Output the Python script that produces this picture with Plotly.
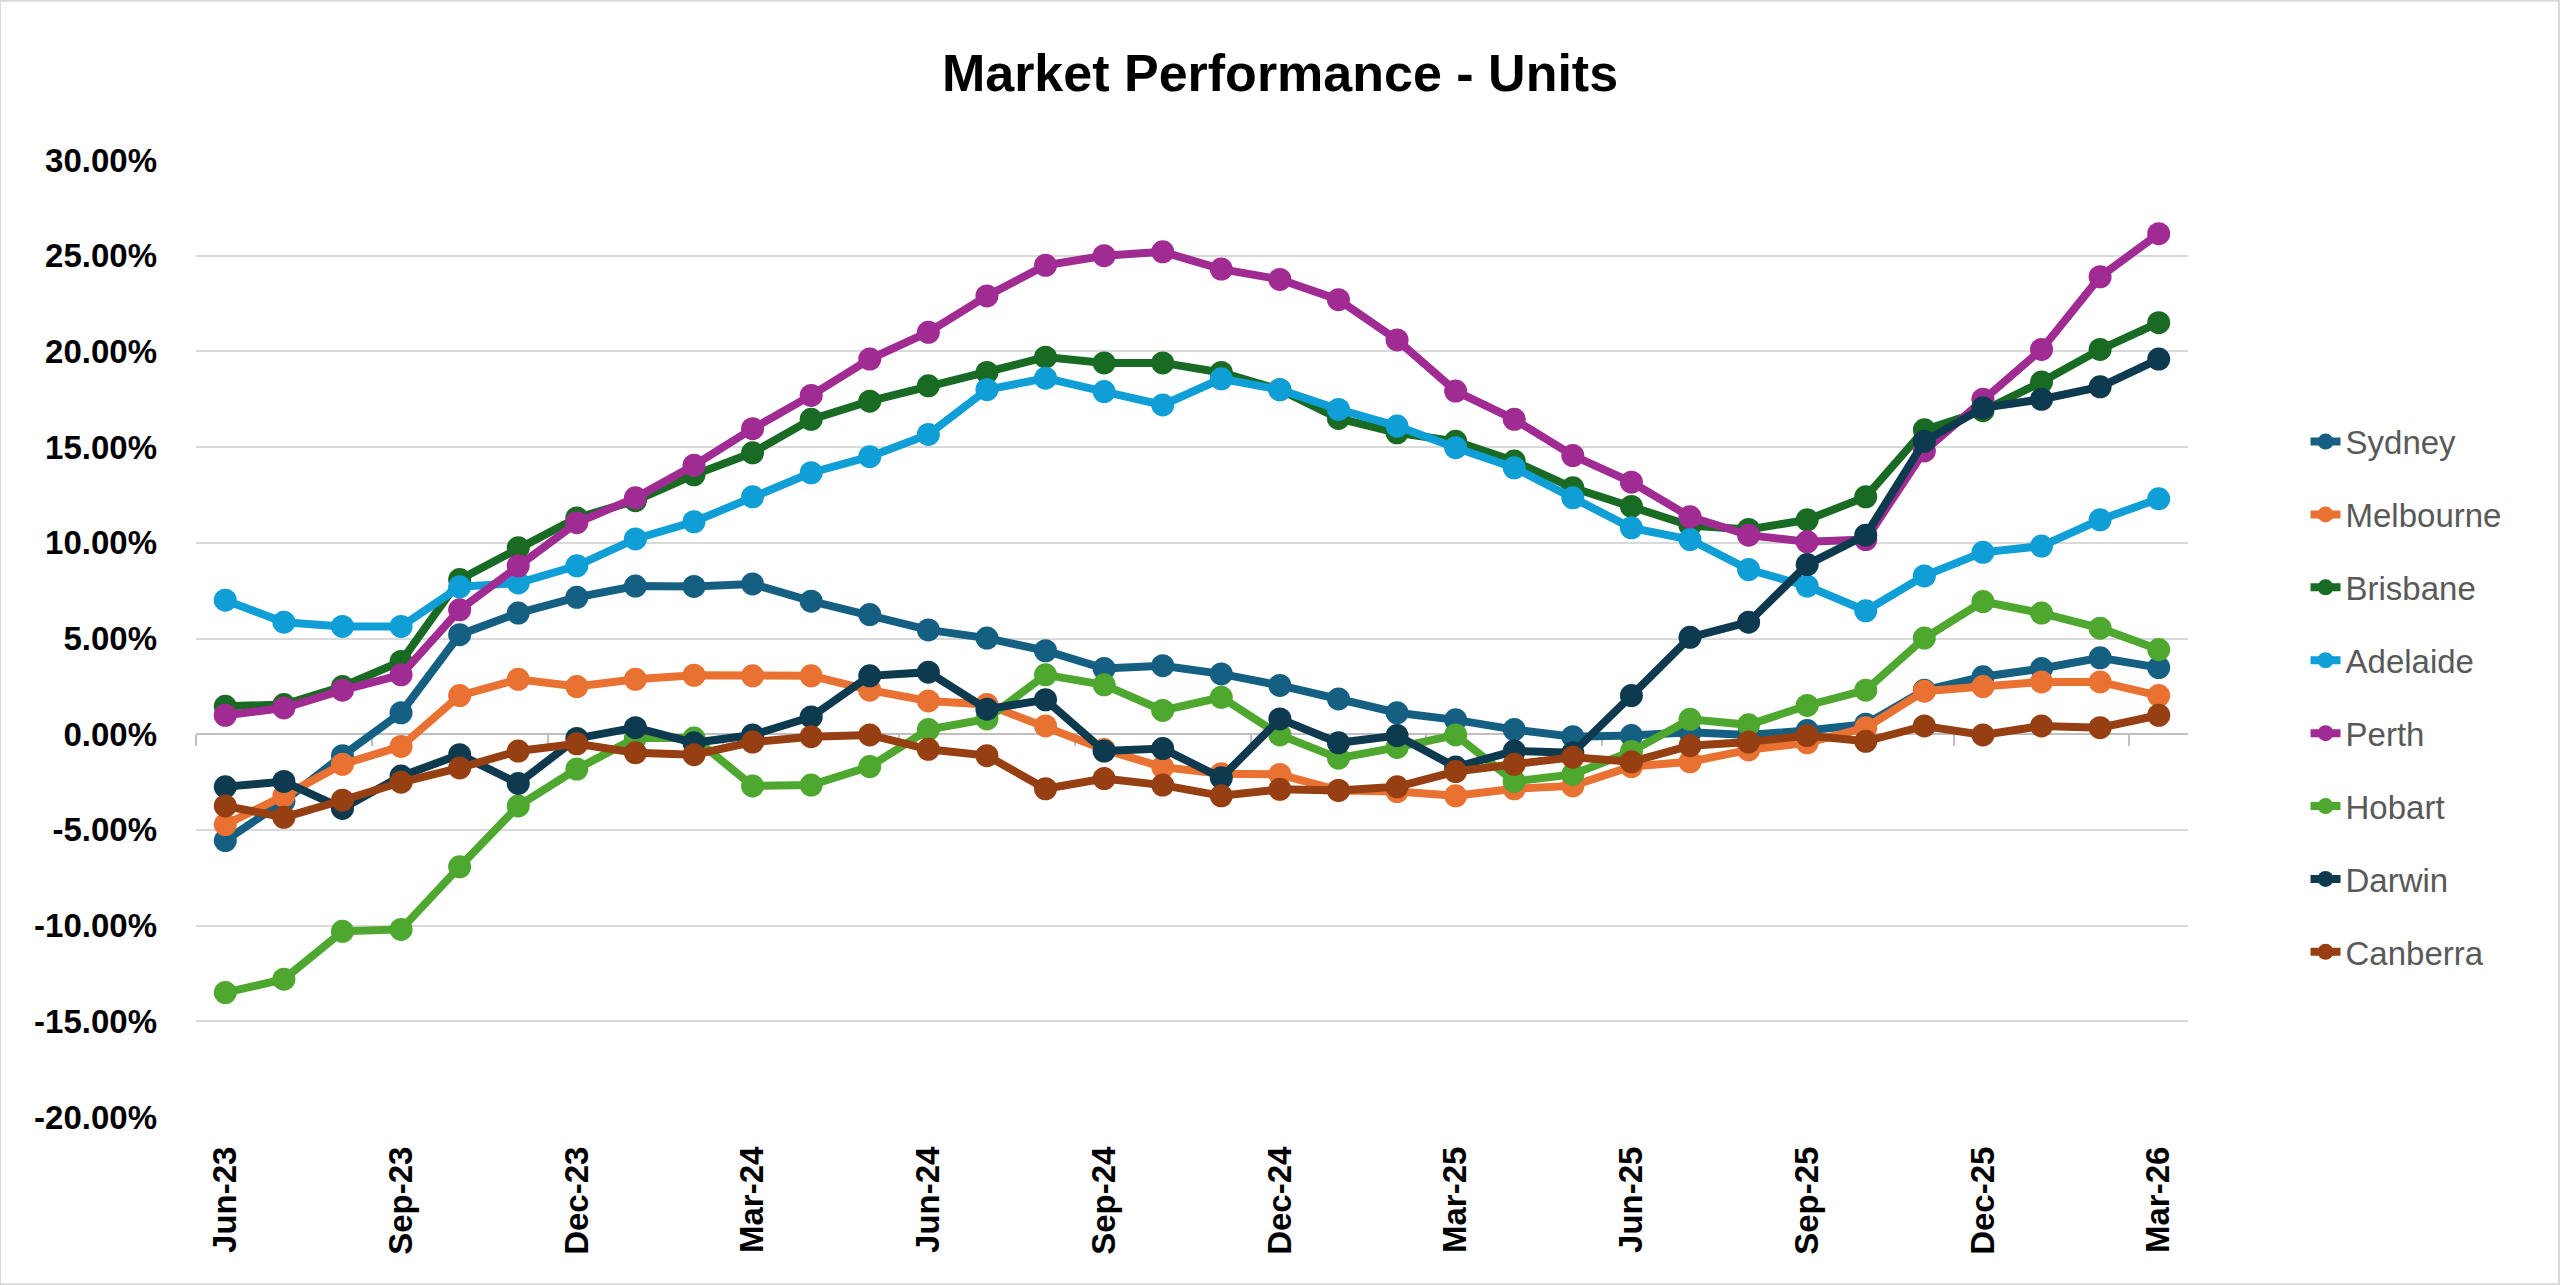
import plotly.graph_objects as go

months = ["Jun-23", "Jul-23", "Aug-23", "Sep-23", "Oct-23", "Nov-23", "Dec-23",
          "Jan-24", "Feb-24", "Mar-24", "Apr-24", "May-24", "Jun-24", "Jul-24",
          "Aug-24", "Sep-24", "Oct-24", "Nov-24", "Dec-24", "Jan-25", "Feb-25",
          "Mar-25", "Apr-25", "May-25", "Jun-25", "Jul-25", "Aug-25", "Sep-25",
          "Oct-25", "Nov-25", "Dec-25", "Jan-26", "Feb-26", "Mar-26"]

sydney = [-5.56, -3.5, -1.12, 1.12, 5.2, 6.33, 7.15, 7.74, 7.72, 7.85, 6.95, 6.25,
          5.45, 5.02, 4.36, 3.43, 3.58, 3.15, 2.55, 1.84, 1.12, 0.75, 0.24, -0.13,
          -0.07, 0.1, -0.04, 0.19, 0.52, 2.3, 3.0, 3.43, 3.99, 3.48]
melbourne = [-4.72, -3.22, -1.57, -0.64, 2.02, 2.87, 2.49, 2.87, 3.08, 3.05, 3.05, 2.3,
             1.74, 1.55, 0.43, -0.8, -1.72, -2.06, -2.1, -2.94, -3.0, -3.22, -2.85, -2.7,
             -1.69, -1.44, -0.82, -0.45, 0.34, 2.25, 2.49, 2.73, 2.73, 2.02]
brisbane = [1.46, 1.55, 2.49, 3.8, 8.08, 9.74, 11.3, 12.2, 13.55, 14.7, 16.45, 17.4,
            18.2, 18.9, 19.7, 19.4, 19.4, 18.9, 18.0, 16.5, 15.75, 15.3, 14.27, 12.87,
            11.9, 10.9, 10.7, 11.2, 12.4, 15.9, 16.9, 18.4, 20.1, 21.5]
adelaide = [7.0, 5.85, 5.63, 5.63, 7.7, 7.9, 8.8, 10.2, 11.1, 12.4, 13.66, 14.5,
            15.66, 18.0, 18.6, 17.9, 17.2, 18.57, 18.0, 16.97, 16.1, 14.97, 13.92, 12.35,
            10.78, 10.17, 8.6, 7.74, 6.45, 8.27, 9.5, 9.83, 11.2, 12.3]
perth = [0.99, 1.37, 2.3, 3.1, 6.5, 8.8, 11.05, 12.35, 14.05, 15.96, 17.7, 19.6,
         21.0, 22.9, 24.5, 25.0, 25.2, 24.3, 23.76, 22.7, 20.6, 17.93, 16.45, 14.56,
         13.17, 11.36, 10.4, 10.05, 10.17, 14.8, 17.5, 20.1, 23.9, 26.15]
hobart = [-13.5, -12.8, -10.3, -10.2, -6.93, -3.75, -1.82, -0.2, -0.2, -2.7, -2.66, -1.69,
          0.24, 0.8, 3.1, 2.58, 1.24, 1.93, -0.04, -1.25, -0.69, -0.04, -2.47, -2.1,
          -0.9, 0.78, 0.49, 1.5, 2.3, 5.02, 6.93, 6.33, 5.54, 4.42]
darwin = [-2.75, -2.47, -3.88, -2.19, -1.07, -2.57, -0.22, 0.34, -0.45, -0.04, 0.9, 3.05,
          3.24, 1.31, 1.8, -0.88, -0.75, -2.28, 0.8, -0.45, -0.07, -1.72, -0.88, -0.97,
          2.02, 5.06, 5.85, 8.86, 10.4, 15.3, 17.05, 17.5, 18.15, 19.6]
canberra = [-3.75, -4.34, -3.45, -2.51, -1.76, -0.88, -0.5, -0.97, -1.07, -0.41, -0.13, -0.04,
            -0.79, -1.12, -2.85, -2.32, -2.66, -3.22, -2.88, -2.94, -2.75, -1.95, -1.57, -1.2,
            -1.44, -0.6, -0.41, -0.07, -0.37, 0.43, -0.04, 0.43, 0.34, 0.99]

x_tick_labels = ["Jun-23", "Sep-23", "Dec-23", "Mar-24", "Jun-24", "Sep-24",
                 "Dec-24", "Mar-25", "Jun-25", "Sep-25", "Dec-25", "Mar-26"]
y_tick_values = [-20, -15, -10, -5, 0, 5, 10, 15, 20, 25, 30]
y_tick_labels = ["-20.00%", "-15.00%", "-10.00%", "-5.00%", "0.00%", "5.00%",
                 "10.00%", "15.00%", "20.00%", "25.00%", "30.00%"]

series = [
    ("Sydney", sydney, "#156082"),
    ("Melbourne", melbourne, "#E97132"),
    ("Brisbane", brisbane, "#196B24"),
    ("Adelaide", adelaide, "#0F9ED5"),
    ("Perth", perth, "#A02B93"),
    ("Hobart", hobart, "#4EA72E"),
    ("Darwin", darwin, "#0D3A4F"),
    ("Canberra", canberra, "#963F12"),
]

FONT = "Arial, Liberation Sans, sans-serif"

fig = go.Figure()
for name, vals, color in series:
    fig.add_trace(go.Scatter(
        x=months, y=vals, name=name, mode="lines+markers", legendgroup=name,
        line=dict(color=color, width=8),
        marker=dict(color=color, size=23),
    ))

# helper trace so the category-boundary axis (tick marks on the 0% line) is drawn
fig.add_trace(go.Scatter(x=[], y=[], xaxis="x2", showlegend=False, hoverinfo="skip"))

boundary_ticks = [i - 0.5 for i in range(0, len(months), 3)]

fig.update_layout(
    width=2560, height=1285,
    margin=dict(l=196, r=372, t=160, b=168),
    paper_bgcolor="white", plot_bgcolor="white",
    title=dict(text="Market Performance - Units", x=0.5, xanchor="center",
               y=1 - 73 / 1285, yanchor="middle",
               font=dict(family=FONT, size=52, color="black", weight="bold")),
    xaxis=dict(type="category", categoryorder="array", categoryarray=months,
               range=[-0.5, len(months) - 0.5],
               tickvals=x_tick_labels, ticktext=x_tick_labels, tickangle=-90,
               tickfont=dict(family=FONT, size=33, color="black", weight="bold"),
               showgrid=False, zeroline=False, showline=False, ticks="",
               ticklabelstandoff=22),
    xaxis2=dict(overlaying="x", anchor="free", position=0.4, type="linear",
                range=[-0.5, len(months) - 0.5], tickvals=boundary_ticks,
                showticklabels=False, ticks="outside", ticklen=11, tickwidth=2,
                tickcolor="#BFBFBF", showline=True, linecolor="#BFBFBF", linewidth=2,
                showgrid=False, zeroline=False, layer="below traces"),
    yaxis=dict(range=[-20, 30], tickvals=y_tick_values, ticktext=y_tick_labels,
               tickfont=dict(family=FONT, size=33, color="black", weight="bold"),
               showgrid=True, gridcolor="#D9D9D9", gridwidth=2,
               zeroline=False, showline=False, ticks="", ticklabelstandoff=38),
    legend=dict(x=1.059, xanchor="left", y=0.735, yanchor="top",
                font=dict(family=FONT, size=33, color="#595959"),
                tracegroupgap=27, bgcolor="rgba(0,0,0,0)"),
    showlegend=True,
    shapes=[dict(type="rect", xref="paper", yref="paper",
                 x0=-196 / 1992, x1=(2560 - 196) / 1992 - 0.0005,
                 y0=-168 / 957 + 0.0008, y1=(1285 - 168) / 957 - 0.0008,
                 line=dict(color="#D9D9D9", width=2), layer="below")],
)

fig.write_html("out.html", config={"displayModeBar": False},
               post_script="document.body.style.margin='0';document.body.style.overflow='hidden';")
